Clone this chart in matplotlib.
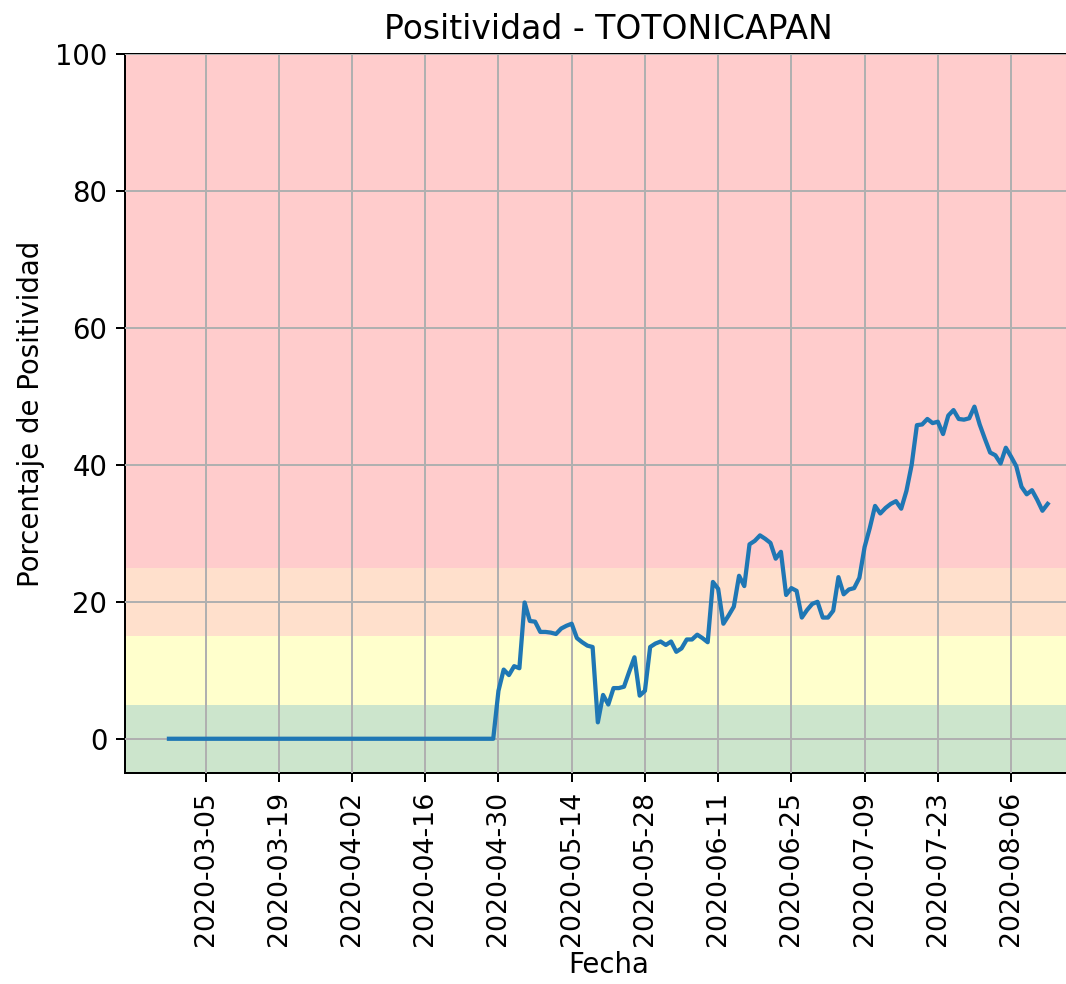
import pandas as pd
import matplotlib
matplotlib.use("Agg")
import matplotlib.pyplot as plt

# %% data
start_date = "2020-02-27"
n_zero_days = 63  # 2020-02-27 .. 2020-04-29
positividad_nonzero = [
    7.0, 10.1, 9.3, 10.6, 10.3, 19.9, 17.2, 17.1, 15.6, 15.6,
    15.5, 15.3, 16.1, 16.5, 16.8, 14.7, 14.1, 13.6, 13.4, 2.4,
    6.4, 5.0, 7.4, 7.4, 7.6, 9.8, 11.9, 6.3, 7.0, 13.4,
    13.9, 14.2, 13.7, 14.2, 12.7, 13.2, 14.5, 14.5, 15.2, 14.7,
    14.1, 22.9, 21.9, 16.8, 18.0, 19.3, 23.8, 22.3, 28.4, 28.9,
    29.7, 29.2, 28.6, 26.3, 27.3, 21.0, 22.0, 21.6, 17.7, 18.8,
    19.7, 20.0, 17.7, 17.7, 18.7, 23.6, 21.1, 21.8, 22.0, 23.5,
    28.0, 30.8, 34.0, 32.9, 33.7, 34.3, 34.7, 33.6, 36.2, 40.0,
    45.8, 45.9, 46.7, 46.1, 46.3, 44.5, 47.2, 48.0, 46.7, 46.6,
    46.8, 48.5, 45.9, 43.8, 41.8, 41.4, 40.2, 42.5, 41.2, 39.8,
    36.8, 35.7, 36.3, 34.9, 33.3, 34.3,
]
positividad = [0.0] * n_zero_days + positividad_nonzero
fechas = pd.date_range(start_date, periods=len(positividad), freq="D")

tick_labels = ["2020-03-05", "2020-03-19", "2020-04-02", "2020-04-16",
               "2020-04-30", "2020-05-14", "2020-05-28", "2020-06-11",
               "2020-06-25", "2020-07-09", "2020-07-23", "2020-08-06"]

# bands (lower, upper, color)
bandas = [(-5, 5, "green"), (5, 15, "yellow"), (15, 25, "#ff6600"), (25, 100, "red")]

# %% plot
plt.rcParams["font.size"] = 11
dpi = 180
fig = plt.figure(figsize=(1066 / dpi, 984 / dpi), dpi=dpi)
# right side of the axes falls outside the picture, as in the original crop
ax = fig.add_axes([125 / 1066, 211 / 984, 966.6 / 1066, 719 / 984])

for lo, hi, c in bandas:
    ax.axhspan(lo, hi, color=c, alpha=0.2, lw=0)

ax.plot(fechas, positividad, color="#1f77b4", lw=1.7, zorder=3)
ax.set_ylim(-5, 100)
ax.set_xticks(pd.to_datetime(tick_labels))
ax.set_xticklabels(tick_labels, rotation=90)
ax.tick_params(axis="x", labelsize=10.7)
ax.grid(True)
ax.set_axisbelow(False)
ax.set_title("Positividad - TOTONICAPAN", fontsize=13.2)
ax.set_xlabel("Fecha", labelpad=2)
ax.set_ylabel("Porcentaje de Positividad")

fig.savefig("out.png", dpi=dpi)
